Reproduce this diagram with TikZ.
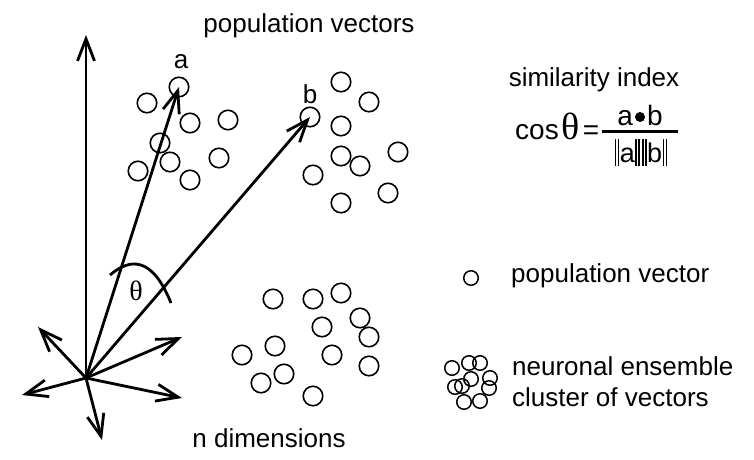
\documentclass[tikz,border=0pt]{standalone}
\usepackage{fontspec}
\setmainfont{Liberation Sans}
\newfontfamily\seriffont{Liberation Serif}
\usetikzlibrary{arrows.meta}
\newcommand{\nbar}{\rule[-4pt]{1.8pt}{27pt}}
\tikzset{
  vec/.style={line width=2.8pt, -{Straight Barb[length=22pt,width=17pt,line width=2.8pt]}},
  pv/.style={circle, draw, line width=1.6pt, minimum size=19.5pt, inner sep=0pt},
  pvs/.style={circle, draw, line width=1.5pt, minimum size=14.5pt, inner sep=0pt},
  lbl/.style={inner sep=0pt, font=\fontsize{26}{30}\selectfont},
}
\begin{document}
\begin{tikzpicture}[x=1pt,y=-1pt]
\useasboundingbox (0,0) rectangle (754,459);
% origin and axes
\coordinate (O) at (86,378);
\coordinate (up) at (86,35);
\coordinate (lu) at (38,327);
\coordinate (lf) at (22,395);
\coordinate (dn) at (102,440);
\coordinate (rl) at (182,398);
\coordinate (ru) at (182,337);
% cluster a
\node[pv] (ca) at (179,87) {};
\node[pv] (a2) at (147,103) {};
\node[pv] (a3) at (190,123) {};
\node[pv] (a4) at (228,120) {};
\node[pv] (a5) at (160,143) {};
\node[pv] (a6) at (170,162) {};
\node[pv] (a7) at (138,171) {};
\node[pv] (a8) at (219,158) {};
\node[pv] (a9) at (190,180) {};
% cluster b
\node[pv] (cb) at (310,117) {};
\node[pv] (b2) at (341,82) {};
\node[pv] (b3) at (369,102) {};
\node[pv] (b4) at (341,126) {};
\node[pv] (b5) at (341,156) {};
\node[pv] (b6) at (360,166) {};
\node[pv] (b7) at (398,152) {};
\node[pv] (b8) at (313,175) {};
\node[pv] (b9) at (388,193) {};
\node[pv] (b10) at (341,203) {};
% lower cluster
\node[pv] (c1) at (273,299) {};
\node[pv] (c2) at (313,299) {};
\node[pv] (c3) at (341,293) {};
\node[pv] (c4) at (360,318) {};
\node[pv] (c5) at (322,327) {};
\node[pv] (c6) at (369,337) {};
\node[pv] (c7) at (275,346) {};
\node[pv] (c8) at (242,355) {};
\node[pv] (c9) at (332,355) {};
\node[pv] (c10) at (369,366) {};
\node[pv] (c11) at (284,374) {};
\node[pv] (c12) at (261,383) {};
\node[pv] (c13) at (313,396) {};
% vectors
\draw[vec] (O) -- (up);
\draw[vec] (O) -- (lu);
\draw[vec] (O) -- (lf);
\draw[vec] (O) -- (dn);
\draw[vec] (O) -- (rl);
\draw[vec] (O) -- (ru);
\draw[vec] (O) -- (ca.center);
\draw[vec] (O) -- (cb.center);
% angle
\draw[line width=2.8pt] (110,275) .. controls (130,258) and (152,256) .. (171,303);
\node[lbl, font=\fontsize{28}{30}\seriffont] (theta) at (136,291) {θ};
% labels
\node[lbl] (la) at (181,62) {a};
\node[lbl] (lb) at (310,94) {b};
\node[lbl] (title) at (309,26) {population vectors};
\node[lbl] (ndim) at (269,438) {n dimensions};
\node[lbl] (sim) at (594,80) {similarity index};
\node[lbl, anchor=base west, font=\fontsize{28}{30}\selectfont] (cos) at (515,139)
  {cos\hspace{3pt}{\fontsize{38}{38}\seriffont θ}\hspace{3pt}=};
\draw[line width=3pt] (602,131.7) -- (678,131.7);
\node[lbl, anchor=base, font=\fontsize{28}{30}\selectfont] (num) at (640,125)
  {a\hspace{2pt}\raisebox{3pt}{\tikz\fill (0,0) circle (5pt);}\hspace{2pt}b};
\node[lbl, anchor=base, font=\fontsize{27}{30}\selectfont] (den) at (641,162)
  {\nbar\hspace{1.2pt}\nbar\hspace{0.5pt}a\hspace{0.5pt}\nbar\hspace{1.2pt}\nbar\hspace{1.5pt}\nbar\hspace{1.2pt}\nbar\hspace{0.5pt}b\hspace{0.5pt}\nbar\hspace{1.2pt}\nbar};
% legend
\node[pvs] (lg) at (471,278) {};
\node[lbl, anchor=west] (lgt) at (511,276) {population vector};
\node[pvs] (e1) at (452,368) {};
\node[pvs] (e2) at (469,363) {};
\node[pvs] (e3) at (480,363) {};
\node[pvs] (e4) at (471,379) {};
\node[pvs] (e5) at (490,378) {};
\node[pvs] (e6) at (455,387) {};
\node[pvs] (e7) at (462,386) {};
\node[pvs] (e8) at (489,388) {};
\node[pvs] (e9) at (464,402) {};
\node[pvs] (e10) at (480,401) {};
\node[lbl, anchor=west] (ens1) at (512,366) {neuronal ensemble};
\node[lbl, anchor=west] (ens2) at (512,397) {cluster of vectors};
\end{tikzpicture}
\end{document}
